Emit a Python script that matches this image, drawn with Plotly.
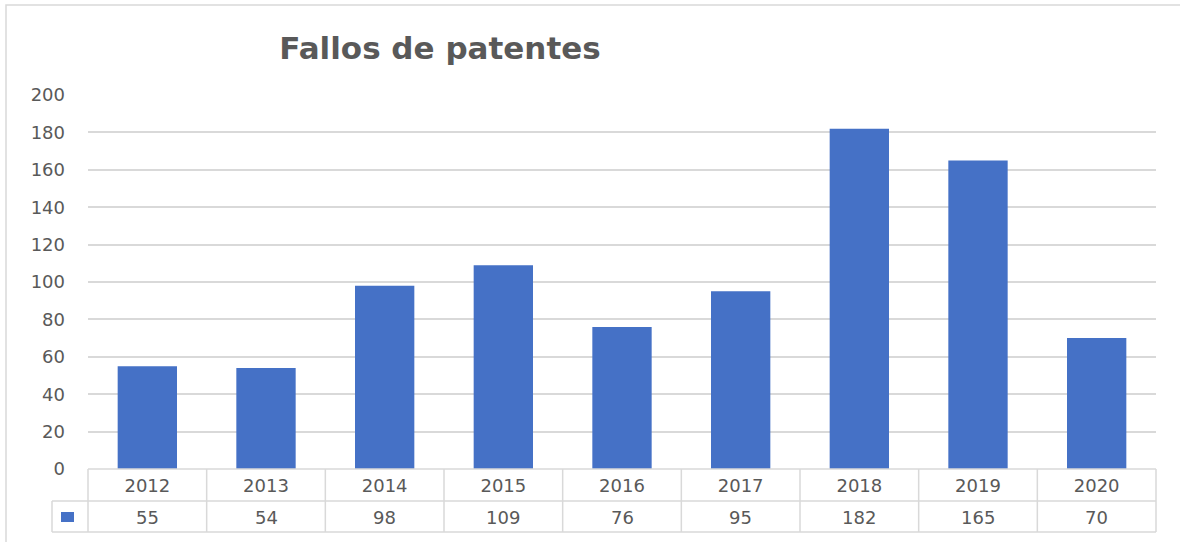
import plotly.graph_objects as go

# ---- data ----
years = ["2012", "2013", "2014", "2015", "2016", "2017", "2018", "2019", "2020"]
fallos = [55, 54, 98, 109, 76, 95, 182, 165, 70]
y_ticks = [0, 20, 40, 60, 80, 100, 120, 140, 160, 180, 200]
title_text = "Fallos de patentes"

# ---- style ----
FONT = "DejaVu Sans"
TXT = "#595959"
GRID = "#D9D9D9"
BAR = "#4571C6"

W, H = 1180, 542
ML, MR, MT, MB = 88, 24, 95, 73
plot_w = W - ML - MR
plot_h = H - MT - MB
n = len(years)


def py(px_y):
    """pixel row -> paper y"""
    return (H - MB - px_y) / plot_h


def px(px_x):
    """pixel column -> paper x"""
    return (px_x - ML) / plot_w


def cat_x(i):
    """category index (may be fractional) -> paper x"""
    return (i + 0.5) / n


row_mid_y = py(501)
row_bot_y = py(532)
val_y = py(517)
legend_left = px(52)

fig = go.Figure()
fig.add_trace(go.Bar(
    x=years, y=fallos, name="Fallos",
    marker=dict(color=BAR, line=dict(width=0)),
    showlegend=False,
))

shapes = []
line = dict(color=GRID, width=1.5)
# table horizontal lines
shapes.append(dict(type="line", xref="paper", yref="paper", x0=0, x1=1, y0=0, y1=0, line=line))
shapes.append(dict(type="line", xref="paper", yref="paper", x0=legend_left, x1=1, y0=row_mid_y, y1=row_mid_y, line=line))
shapes.append(dict(type="line", xref="paper", yref="paper", x0=legend_left, x1=1, y0=row_bot_y, y1=row_bot_y, line=line))
# table vertical lines
for i in range(n + 1):
    xx = cat_x(i - 0.5)
    shapes.append(dict(type="line", xref="paper", yref="paper", x0=xx, x1=xx, y0=0, y1=row_bot_y, line=line))
shapes.append(dict(type="line", xref="paper", yref="paper", x0=legend_left, x1=legend_left,
                   y0=row_mid_y, y1=row_bot_y, line=line))
# legend key
shapes.append(dict(type="rect", xref="paper", yref="paper", x0=px(61), x1=px(74),
                   y0=py(522), y1=py(512), fillcolor=BAR, line=dict(width=0)))
# outer chart border
shapes.append(dict(type="rect", xref="paper", yref="paper",
                   x0=px(6), x1=px(1200), y0=py(560), y1=py(5),
                   line=dict(color=GRID, width=1.5), fillcolor="rgba(0,0,0,0)", layer="below"))

annotations = []
for i, v in enumerate(fallos):
    annotations.append(dict(x=cat_x(i), y=val_y, xref="paper", yref="paper", text=str(v), showarrow=False,
                            font=dict(family=FONT, size=18, color=TXT), xanchor="center", yanchor="middle"))

fig.update_layout(
    width=W, height=H,
    margin=dict(l=ML, r=MR, t=MT, b=MB),
    paper_bgcolor="white", plot_bgcolor="white",
    title=dict(text="<b>" + title_text + "</b>", x=440 / W, xanchor="center",
               y=1 - 48 / H, yanchor="middle",
               font=dict(family=FONT, size=31, color=TXT)),
    bargap=0.5,
    shapes=shapes,
    annotations=annotations,
    xaxis=dict(type="category", range=[-0.5, n - 0.5], showgrid=False, showline=False, zeroline=False,
               ticks="", tickfont=dict(family=FONT, size=18, color=TXT), ticklabelstandoff=4),
    yaxis=dict(range=[0, 200], tickvals=y_ticks, showgrid=True, gridcolor=GRID, gridwidth=1.5,
               zeroline=False, showline=False, ticks="", ticklabelstandoff=22,
               tickfont=dict(family=FONT, size=18, color=TXT)),
)

fig.write_html("out.html", config={"displayModeBar": False},
               post_script="document.body.style.margin='0';")
